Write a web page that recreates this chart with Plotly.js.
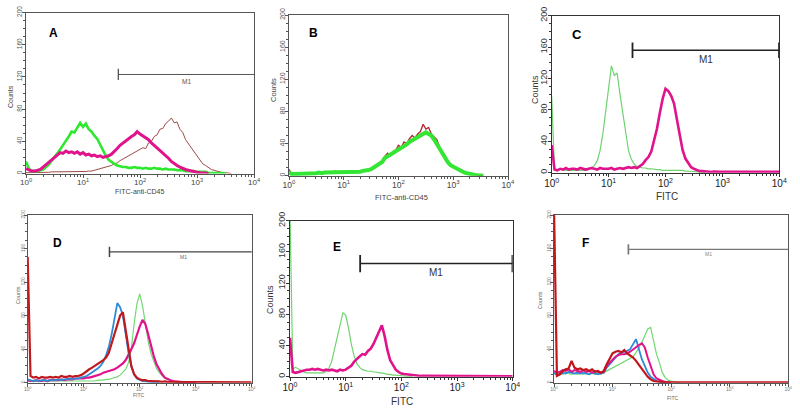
<!DOCTYPE html>
<html><head><meta charset="utf-8">
<script src="https://cdn.plot.ly/plotly-3.0.1.min.js"></script>
<style>html,body{margin:0;padding:0;background:#fff}#chart{width:800px;height:409px}</style>
</head><body><div id="chart"></div>
<script>
// bin positions in decades (log10 of FITC intensity)
const binLog = [0,0.05,0.1,0.15,0.2,0.25,0.3,0.35,0.4,0.45,0.5,0.55,0.6,0.65,0.7,0.75,0.8,0.85,0.9,0.95,1,1.05,1.1,1.15,1.2,1.25,1.3,1.35,1.4,1.45,1.5,1.55,1.6,1.65,1.7,1.75,1.8,1.85,1.9,1.95,2,2.05,2.1,2.15,2.2,2.25,2.3,2.35,2.4,2.45,2.5,2.55,2.6,2.65,2.7,2.75,2.8,2.85,2.9,2.95,3,3.05,3.1,3.15,3.2,3.25,3.3,3.35,3.4,3.45,3.5,3.55,3.6,3.65,3.7,3.75,3.8,3.85,3.9,3.95,4];
const decadeText = ['10<sup>0</sup>','10<sup>1</sup>','10<sup>2</sup>','10<sup>3</sup>','10<sup>4</sup>'];
const countTicks = [0,40,80,120,160,200];

// Panel A
const greenA = [15,6,3,3,3,4,5,8,11,16, 20,25,30,35,40,46,52,51,57,63, 58,62,55,52,47,43,36,28,22,17, 14,12,10,9,8,8,7,7,8,7, 7,6,7,6,6,7,6,6,5,6, 5,5,5,4,4,4,3,3,3,3, 2,2,2,2,1,1,1,1,1,0.5, 0];
const magentaA = [6,4,3,3,4,5,8,11,14,18, 21,24,26,25,28,26,27,25,27,24, 26,23,24,22,23,21,22,20,21,22, 24,27,31,35,38,41,43,46,48,52, 49,47,44,42,38,35,32,28,25,22, 19,15,12,10,8,6,5,4,3,2, 1.5,1,1,0.5,0];
const brownA = [1,1,1,1,1,1,1.5,1.5,1.5,2, 2,2,2,2,2,2,2,2,2,2, 2.5,2.5,3,3,4,5,6,7,8,9, 10,12,13,16,18,19,21,24,26,27, 29,32,31,38,40,46,48,55,56,62, 65,69,63,64,55,51,42,37,31,26, 22,17,12,10,7,5,4,3,2,1, 1,0.5,0];
const gateA = [1.62, 4.0, 123];

// Panel B
const redB = [8,2,2,2,2,3,2,3,3,3, 3,4,3,4,4,5,4,6,4,4, 4,4,4,5,5,5,5,6,6,7, 8,10,12,15,18,24,28,25,30,32, 38,35,42,40,46,50,47,52,55,64, 58,60,52,49,45,36,29,23,18,14, 11,9,7,5,4,3,2,1.5,1,0.5, 0.5,0];
const greenB = [4,2,2,2,2,3,2,3,3,3, 3,4,3,4,4,5,4,5,4,4, 4,4,4,5,5,5,5,6,6,7, 8,10,12,14,17,22,24,26,28,30, 33,35,37,39,42,44,46,48,51,53, 54,52,50,45,39,33,27,22,17,13, 11,9,7,5,4,3,2,1.5,1,0.5, 0.5,0];

// Panel C
const greenC = [97,3,4,5,4,3,3,3,3,3, 3,3,3,4,6,9,15,28,50,80, 108,136,124,127,100,75,48,28,17,11, 8,7,6,6,5,5,4,4,4,3, 3,3,3,3,3,3,3,2,2,2, 1.5,1,1,0.5,0];
const magentaC = [35,4,3,5,4,6,4,5,5,4, 6,5,4,5,6,5,4,6,5,5, 5,6,4,5,6,5,6,7,6,7, 6,8,11,16,20,27,40,56,76,94, 107,104,98,88,68,46,29,18,12,7, 5,3,2,2,1.5,1.5,1,1.5,1,1, 1,1,1.5,1,1,1,1,1,1,1, 1,1,1,1,1,1,1,1,1,1,1];
const gateC = [1.42, 4.0, 156];

// Panel D
const greenD = [2,2,1,2,1,2,2,1,2,2, 2,2,2,2,2,2,2,2,2,2, 2,2,2,2,2,3,3,3,4,4, 5,6,7,9,12,16,24,40,70,94, 106,92,71,50,35,25,17,12,8,5, 4,2,1,0.5,0.5,0];
const magentaD = [3,2,2,3,2,2,3,2,3,3, 3,3,4,3,4,4,4,5,5,5, 5,6,6,7,8,9,10,12,13,14, 15,16,18,20,23,27,33,40,47,58, 67,75,70,58,44,32,22,15,10,6, 4,3,2,1.5,1,1,0.5,0.5,0.5,0.5, 0];
const blueD = [4,3,2,3,2,3,3,2,3,3, 3,4,3,4,4,5,4,5,5,6, 7,8,10,12,14,17,20,25,33,43, 58,75,95,90,80,58,36,20,10,5, 3,2,1.5,1,1,0.5,0.5,0];
const redD = [150,8,6,7,5,7,6,6,7,6, 7,6,8,7,7,8,7,8,8,9, 11,14,16,18,20,22,24,27,30,36, 47,58,67,80,84,63,40,20,10,6, 4,3,3,2,2,2,1.5,1.5,1,1.5, 1,1,1,1,1,0.5,1,0.5,0.5,0.5, 0.5,0.5,0.5,0.5,0.5,0.5,0.5,0.5,0.5,0.5, 0.5,0.5,0.5,0.5,0.5,0.5,0.5,0.5,0.5,0.5,0.5];
const gateD = [1.46, 4.09, 156];

// Panel E
const greenE = [210,10,12,10,7,6,5,5,5,5, 5,5,5,7,11,20,36,54,70,82, 79,63,42,27,17,12,9,8,7,7, 6,6,5,5,4,3,3,2,2,1.5, 1,1,0.5,0.5,0];
const magentaE = [50,6,5,6,7,8,9,9,10,9, 10,9,8,9,8,9,8,7,9,8, 9,11,14,19,23,26,29,28,33,36, 42,50,58,66,52,34,21,14,9,6, 4,3.5,3,2.5,2,1.5,1.5,1,1,1, 1,1,0.5,1,0.5,0.5,1,0.5,0.5,0.5, 0.5,0.5,0.5,0.5,0.5,0.5,0.5,0.5,0.5,0.5, 0.5,0.5,0.5,0.5,0.5,0.5,0.5,0.5,0.5,0.5,0.5];
const gateE = [1.26, 4.0, 145];

// Panel F
const greenF = [11,10,11,10,12,11,10,11,10,11, 10,11,10,11,10,11,10,12,14,16, 18,20,22,24,25,27,29,31,36,42, 48,56,64,66,48,34,24,12,6,3, 2,1,0.5,0];
const blueF = [12,9,10,12,11,13,12,11,12,11, 12,11,10,12,11,10,11,12,18,22, 27,31,34,36,37,38,40,46,52,40, 28,20,12,7,4,2,1,0.5,0];
const magentaF = [14,12,13,15,14,16,13,15,14,13, 15,13,14,12,14,13,12,13,20,24, 28,31,33,34,34,35,37,40,43,45, 47,42,30,19,10,5,3,2,1,0.5, 0];
const redF = [210,8,10,14,16,17,26,18,16,17, 15,16,14,16,13,14,12,14,22,28, 35,37,38,36,39,35,33,30,26,21, 16,11,7,4,2,1.5,1,1,0.5,0.5, 0.5,0.5,0.5,0.5,0.5,0.5,0.5,0.5,0.5,0.5, 0.5,0.5,0.5,0.5,0.5,0.5,0.5,0.5,0.5,0.5, 0.5,0.5,0.5,0.5,0.5,0.5,0.5,0.5,0.5,0.5, 0.5,0.5,0.5,0.5,0.5,0.5,0.5,0.5,0.5,0.5,0.5];
const gateF = [1.27, 4.0, 159];

const FONT = 'Arial, "Liberation Sans", sans-serif';

function tr(ys, ax, color, width) {
  return {type:'scatter', mode:'lines', x: binLog.slice(0, ys.length), y: ys,
    xaxis:'x'+ax, yaxis:'y'+ax, line:{color:color, width:width}, hoverinfo:'skip'};
}
const data = [
  tr(brownA,'', '#9b4a46', 1),
  tr(greenA,'', '#2ee82e', 2.6),
  tr(magentaA,'', '#e0138c', 3),
  tr(redB,'2', '#b3262e', 1.3),
  tr(greenB,'2', '#33e633', 4),
  tr(greenC,'3', '#6fd36f', 1.2),
  tr(magentaC,'3', '#e0138c', 2.6),
  tr(greenD,'4', '#72d872', 1.2),
  tr(magentaD,'4', '#e0138c', 2.2),
  tr(blueD,'4', '#2f8ad6', 1.8),
  tr(redD,'4', '#c01a1f', 2.2),
  tr(greenE,'5', '#6fd36f', 1.2),
  tr(magentaE,'5', '#e0138c', 2.6),
  tr(greenF,'6', '#72d872', 1.2),
  tr(blueF,'6', '#2f8ad6', 1.8),
  tr(magentaF,'6', '#e0138c', 2),
  tr(redF,'6', '#c0161c', 2.2)
];

const minorX = [];
for (let d = 0; d < 4; d++) for (let k = 2; k <= 9; k++) minorX.push(d + Math.log10(k));

function xAx(L, R, anchor, fs, col, lc) {
  return {domain:[L/800, R/800], anchor:anchor, range:[0,4], tickmode:'array', tickvals:[0,1,2,3,4], ticktext:decadeText,
    ticks:'outside', ticklen:3, tickcolor:lc, showline:true, mirror:true, linecolor:lc, linewidth:1,
    showgrid:false, zeroline:false, tickfont:{size:fs, color:col, family:FONT}, ticklabelstandoff:-2,
    minor:{tickmode:'array', tickvals:minorX, ticks:'outside', ticklen:2, tickcolor:lc}, fixedrange:true};
}
function yAx(T, B, anchor, fs, col, lc) {
  return {domain:[1-B/409, 1-T/409], anchor:anchor, range:[0,200], tickmode:'array', tickvals:countTicks,
    tickangle:-90, ticks:'outside', ticklen:3, tickcolor:lc, showline:true, mirror:true, linecolor:lc, linewidth:1,
    showgrid:false, zeroline:false, tickfont:{size:fs, color:col, family:FONT}, ticklabelstandoff:-3,
    minor:{dtick:10, ticks:'outside', ticklen:2, tickcolor:lc}, fixedrange:true};
}

function gateShapes(g, ax, half, color, width, bothEnds) {
  const xr = 'x'+ax, yr = 'y'+ax;
  const s = [
    {type:'line', xref:xr, yref:yr, x0:g[0], x1:g[1], y0:g[2], y1:g[2], line:{color:color, width:width}},
    {type:'line', xref:xr, yref:yr, x0:g[0], x1:g[0], y0:g[2]-half, y1:g[2]+half, line:{color:color, width:width+0.3}}
  ];
  if (bothEnds) s.push({type:'line', xref:xr, yref:yr, x0:g[1], x1:g[1], y0:g[2]-half, y1:g[2]+half, line:{color:color, width:width+0.8}});
  return s;
}
const shapes = [].concat(
  gateShapes(gateA, '', 7, '#555', 1, false),
  gateShapes(gateC, '3', 10, '#222', 1.5, true),
  gateShapes(gateD, '4', 6, '#444', 1.2, false),
  gateShapes(gateE, '5', 11, '#222', 1.5, true),
  gateShapes(gateF, '6', 6, '#777', 1.4, false)
);

function P(text, x, y, size, opts) {
  return Object.assign({text:text, x:x/800, y:1-y/409, xref:'paper', yref:'paper', showarrow:false,
    xanchor:'center', yanchor:'middle', font:{size:size, color:'#222', family:FONT}}, opts||{});
}
function gateLabel(g, ax, size, color, shift) {
  return {text:'M1', x:(g[0]+g[1])/2, y:g[2], xref:'x'+ax, yref:'y'+ax, showarrow:false,
    yshift:shift, font:{size:size, color:color, family:FONT}};
}
const annotations = [
  P('<b>A</b>', 53, 33, 12, {font:{size:12, color:'#000', family:FONT}}),
  P('<b>B</b>', 313, 33, 12, {font:{size:12, color:'#000', family:FONT}}),
  P('<b>C</b>', 577, 34, 13, {font:{size:13, color:'#000', family:FONT}}),
  P('<b>D</b>', 58, 243, 12, {font:{size:12, color:'#000', family:FONT}}),
  P('<b>E</b>', 337, 247, 12, {font:{size:12, color:'#000', family:FONT}}),
  P('<b>F</b>', 585, 243, 12, {font:{size:12, color:'#000', family:FONT}}),
  P('Counts', 10, 97, 7, {textangle:-90, font:{size:7, color:'#444', family:FONT}}),
  P('Counts', 273, 90, 7.5, {textangle:-90, font:{size:7.5, color:'#444', family:FONT}}),
  P('Counts', 535, 90, 9, {textangle:-90, font:{size:9, color:'#333', family:FONT}}),
  P('Counts', 18, 295, 5.5, {textangle:-90, font:{size:5.5, color:'#666', family:FONT}}),
  P('Counts', 270, 300, 9, {textangle:-90, font:{size:9, color:'#333', family:FONT}}),
  P('Counts', 540, 300, 5.5, {textangle:-90, font:{size:5.5, color:'#666', family:FONT}}),
  P('FITC-anti-CD45', 140, 192, 7, {font:{size:7, color:'#444', family:FONT}}),
  P('FITC-anti-CD45', 402, 197, 7.5, {font:{size:7.5, color:'#444', family:FONT}}),
  P('FITC', 667, 196, 10, {font:{size:10, color:'#333', family:FONT}}),
  P('FITC', 138, 395, 5, {font:{size:5, color:'#666', family:FONT}}),
  P('FITC', 402, 401, 10, {font:{size:10, color:'#333', family:FONT}}),
  P('FITC', 672, 398, 5, {font:{size:5, color:'#666', family:FONT}}),
  gateLabel(gateA, '', 6.5, '#555', -7),
  gateLabel(gateC, '3', 10, '#333', -9),
  gateLabel(gateD, '4', 5, '#666', -5),
  gateLabel(gateE, '5', 10, '#333', -9),
  gateLabel(gateF, '6', 5, '#888', -5)
];

const layout = {
  width:800, height:409, margin:{l:0, r:0, t:0, b:0}, paper_bgcolor:'#fff', plot_bgcolor:'#fff',
  showlegend:false, font:{family:FONT},
  xaxis: xAx(26, 254, 'y', 8, '#444', '#555'),
  yaxis: yAx(12.5, 173.5, 'x', 6.5, '#555', '#555'),
  xaxis2: xAx(289, 508, 'y2', 8.5, '#444', '#555'),
  yaxis2: yAx(15, 175.7, 'x2', 7, '#555', '#555'),
  xaxis3: xAx(551.7, 779.3, 'y3', 10, '#222', '#333'),
  yaxis3: yAx(15.7, 172.7, 'x3', 9, '#333', '#333'),
  xaxis4: xAx(27.7, 251.7, 'y4', 5, '#777', '#555'),
  yaxis4: yAx(215, 382.7, 'x4', 5, '#777', '#555'),
  xaxis5: xAx(290, 512.7, 'y5', 10, '#222', '#333'),
  yaxis5: yAx(220.7, 376.7, 'x5', 9, '#333', '#333'),
  xaxis6: xAx(554, 788.3, 'y6', 5, '#777', '#555'),
  yaxis6: yAx(215, 382.7, 'x6', 5, '#777', '#555'),
  shapes: shapes,
  annotations: annotations
};
Plotly.newPlot('chart', data, layout, {displayModeBar:false, staticPlot:true});
</script>
</body></html>
